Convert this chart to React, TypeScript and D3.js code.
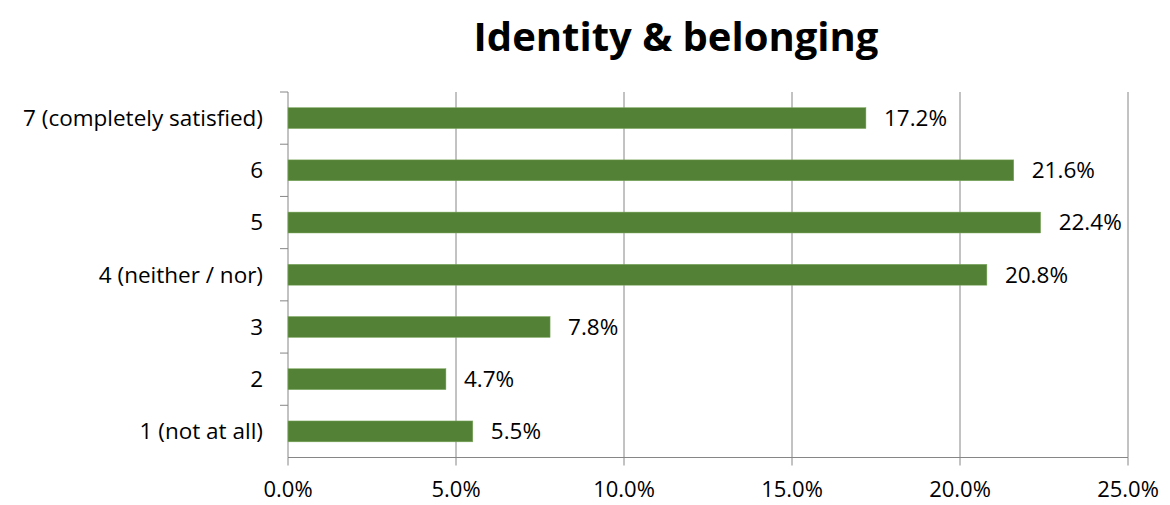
import React from "react";
import * as d3 from "d3";

const categories = ["7 (completely satisfied)", "6", "5", "4 (neither / nor)", "3", "2", "1 (not at all)"];
const values = [17.2, 21.6, 22.4, 20.8, 7.8, 4.7, 5.5];
const xTicks = [0, 5, 10, 15, 20, 25];
const title = "Identity & belonging";

const W = 1170, H = 505;
const left = 288, right = 1128, top = 92, bottom = 457.5;
const font = "'Open Sans', sans-serif";

export default function App() {
  const x = d3.scaleLinear().domain([0, 25]).range([left, right]);
  const y = d3.scaleBand<string>().domain(categories).range([top, bottom]).paddingInner(0.6).paddingOuter(0.3);
  const yOuter = d3.scaleBand<string>().domain(categories).range([top, bottom]);
  const grid = "#868686";
  return (
    <svg width={W} height={H} style={{ position: "absolute", left: 0, top: 0, background: "#fff" }}>
      <text x={676} y={51} textAnchor="middle" fontFamily={font} fontWeight={700} fontSize={40} fill="#000">{title}</text>
      {xTicks.map((t) => (
        <g key={t}>
          {t > 0 && <line x1={x(t)} x2={x(t)} y1={top} y2={bottom} stroke={grid} strokeWidth={1} />}
          <line x1={x(t)} x2={x(t)} y1={bottom} y2={bottom + 8} stroke={grid} strokeWidth={1} />
          <text x={x(t)} y={497} textAnchor="middle" fontFamily={font} fontSize={22} fill="#000">{t.toFixed(1)}%</text>
        </g>
      ))}
      <line x1={left} x2={left} y1={top} y2={bottom} stroke={grid} strokeWidth={1} />
      <line x1={left} x2={right} y1={bottom} y2={bottom} stroke={grid} strokeWidth={1} />
      {categories.map((c) => (
        <line key={"t" + c} x1={left - 8} x2={left} y1={yOuter(c)!} y2={yOuter(c)!} stroke={grid} strokeWidth={1} />
      ))}
      {categories.map((c, i) => (
        <g key={c}>
          <rect x={x(0)} y={y(c)!} width={x(values[i]) - x(0)} height={y.bandwidth()} fill="#538135" stroke="#7faa61" strokeWidth={0.5} />
          <text x={left - 25} y={y(c)! + y.bandwidth() / 2} dy="0.35em" textAnchor="end" fontFamily={font} fontSize={22.5} fill="#000">{c}</text>
          <text x={x(values[i]) + 18} y={y(c)! + y.bandwidth() / 2} dy="0.35em" textAnchor="start" fontFamily={font} fontSize={22.5} fill="#000">{values[i].toFixed(1)}%</text>
        </g>
      ))}
    </svg>
  );
}
